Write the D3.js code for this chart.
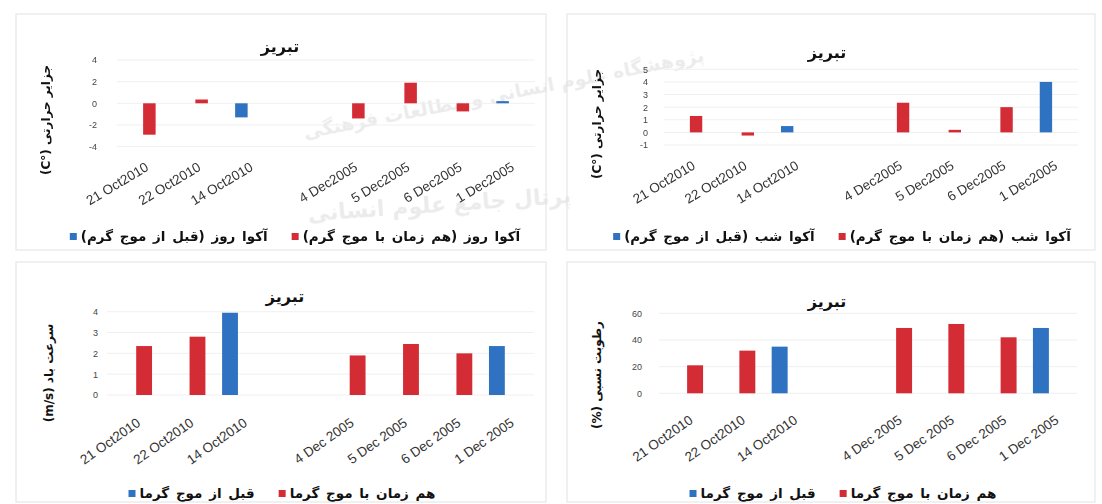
<!DOCTYPE html>
<html>
<head>
<meta charset="utf-8">
<script src="https://cdn.jsdelivr.net/npm/d3@7"></script>
<style>
body{margin:0;background:#fff}
svg{display:block}
.fa{font-family:"DejaVu Sans",sans-serif;direction:rtl;unicode-bidi:embed;font-weight:bold}
.tick text{font-family:"Liberation Sans",Arial,sans-serif}
</style>
</head>
<body>
<svg id="chart" width="1102" height="504"></svg>
<script>
// categories (index 3 is the empty gap between the two events)
let catsTop=['21 Oct2010','22 Oct2010','14 Oct2010','','4 Dec2005','5 Dec2005','6 Dec2005','1 Dec2005'];
let catsBottom=['21 Oct2010','22 Oct2010','14 Oct2010','','4 Dec 2005','5 Dec 2005','6 Dec 2005','1 Dec 2005'];

// heat island, day (top left)
let dayDuring=[-2.9,0.35,null,null,-1.4,1.9,-0.75,null];
let dayBefore=[null,null,-1.3,null,null,null,null,0.2];
// heat island, night (top right)
let nightDuring=[1.3,-0.25,null,null,2.35,0.2,2.0,null];
let nightBefore=[null,null,0.5,null,null,null,null,4.0];
// wind speed m/s (bottom left)
let windDuring=[2.35,2.8,null,null,1.9,2.45,2.0,null];
let windBefore=[null,null,3.95,null,null,null,null,2.35];
// relative humidity % (bottom right)
let humDuring=[21,32,null,null,49,52,42,null];
let humBefore=[null,null,35,null,null,null,null,49];

let ticksDay=[-4,-2,0,2,4];
let ticksNight=[-1,0,1,2,3,4,5];
let ticksWind=[0,1,2,3,4];
let ticksHum=[0,20,40,60];

let title='تبریز';
let legendDay=['آکوا روز (قبل از موج گرم)','آکوا روز (هم زمان با موج گرم)'];
let legendNight=['آکوا شب (قبل از موج گرم)','آکوا شب (هم زمان با موج گرم)'];
let legendWave=['قبل از موج گرما','هم زمان با موج گرما'];

let color={before:'#2f72c2',during:'#d32c35'};
let svg=d3.select('#chart');

// watermark of the source site, faint gray
let wm=svg.append('g').attr('fill','#9a9a9a').attr('opacity',0.2).attr('class','fa');
wm.append('text').attr('transform','translate(505,100) rotate(-11)').attr('text-anchor','middle')
  .attr('font-size',19).text('پژوهشگاه علوم انسانی و مطالعات فرهنگی');
wm.append('text').attr('transform','translate(440,212) rotate(-4)').attr('text-anchor','middle')
  .attr('font-size',22).text('پرتال جامع علوم انسانی');

let panels=[
  {box:[16,14,530,236],cats:catsTop,before:dayBefore,during:dayDuring,ticks:ticksDay,
   yDomain:[-4,4],yRange:[146.6,60],xRange:[117,535],pi:0,po:1.09,tickX:97,
   titleXY:[280,52],yTitle:'جزایر حرارتی (°C)',yTitleXY:[46,120],lx:4,ly:19,rot:-31,
   legend:legendDay,legendCx:295,legendY:237},
  {box:[567,14,528,236],cats:catsTop,before:nightBefore,during:nightDuring,ticks:ticksNight,
   yDomain:[-1,5],yRange:[145,69.3],xRange:[664,1078],pi:0,po:1.09,tickX:648,
   titleXY:[827,58],yTitle:'جزایر حرارتی (°C)',yTitleXY:[597,124],lx:4,ly:19,rot:-31,
   legend:legendNight,legendCx:842,legendY:237},
  {box:[16,262,530,240],cats:catsBottom,before:windBefore,during:windDuring,ticks:ticksWind,
   yDomain:[0,4],yRange:[395,311.7],xRange:[107,534],pi:0.24,po:0.4,tickX:98,
   titleXY:[285,302],yTitle:'سرعت باد (m/s)',yTitleXY:[49,373],lx:5,ly:26,rot:-35,
   legend:legendWave,legendCx:282,legendY:494},
  {box:[567,262,528,240],cats:catsBottom,before:humBefore,during:humDuring,ticks:ticksHum,
   yDomain:[0,60],yRange:[393.3,313.3],xRange:[659,1077],pi:0.2,po:0.41,tickX:642,
   titleXY:[827,307],yTitle:'رطوبت نسبی (%)',yTitleXY:[597,375],lx:6,ly:25,rot:-35,
   legend:legendWave,legendCx:843,legendY:494}
];

let drawPanel=(p)=>{
  let g=svg.append('g');
  g.append('rect')
    .attr('x',p.box[0]).attr('y',p.box[1]).attr('width',p.box[2]).attr('height',p.box[3])
    .attr('fill','none').attr('stroke','#e2e2e2');

  let y=d3.scaleLinear().domain(p.yDomain).range(p.yRange);
  let x0=d3.scaleBand().domain(d3.range(p.cats.length)).range(p.xRange);
  let x1=d3.scaleBand().domain(['before','during']).range([0,x0.bandwidth()])
    .paddingInner(p.pi).paddingOuter(p.po);

  // gridlines
  g.selectAll('line.grid').data(p.ticks).enter().append('line')
    .attr('class','grid')
    .attr('x1',p.xRange[0]).attr('x2',p.xRange[1])
    .attr('y1',d=>y(d)).attr('y2',d=>y(d))
    .attr('stroke','#f0f0f0');

  // y axis labels
  let yAxis=d3.axisLeft(y).tickValues(p.ticks).tickSize(0).tickPadding(0)
    .tickFormat(d=>String(d));
  g.append('g').attr('transform','translate('+p.tickX+',0)').call(yAxis)
    .call(a=>a.select('.domain').remove())
    .selectAll('text').attr('font-size',9).attr('fill','#444');

  // bars
  let rows=[];
  p.cats.forEach((c,i)=>{
    if(p.before[i]!=null) rows.push({i:i,s:'before',v:p.before[i]});
    if(p.during[i]!=null) rows.push({i:i,s:'during',v:p.during[i]});
  });
  g.selectAll('rect.bar').data(rows).enter().append('rect')
    .attr('class','bar')
    .attr('x',d=>x0(d.i)+x1(d.s))
    .attr('width',x1.bandwidth())
    .attr('y',d=>y(Math.max(0,d.v)))
    .attr('height',d=>Math.abs(y(d.v)-y(0)))
    .attr('fill',d=>color[d.s]);

  // rotated category labels
  let xAxis=d3.axisBottom(x0).tickFormat(i=>p.cats[i]).tickSize(0);
  g.append('g').attr('transform','translate(0,'+p.yRange[0]+')').call(xAxis)
    .call(a=>a.select('.domain').remove())
    .selectAll('text')
    .attr('x',0).attr('y',0).attr('dy','0.35em')
    .attr('text-anchor','end')
    .attr('font-size',13.5).attr('fill','#333')
    .attr('transform','translate('+p.lx+','+p.ly+') rotate('+p.rot+')');

  // title
  g.append('text').attr('class','fa')
    .attr('x',p.titleXY[0]).attr('y',p.titleXY[1])
    .attr('text-anchor','middle').attr('font-size',16).attr('fill','#111')
    .text(title);

  // y axis title
  g.append('text').attr('class','fa')
    .attr('transform','translate('+p.yTitleXY[0]+','+p.yTitleXY[1]+') rotate(-90)')
    .attr('text-anchor','middle').attr('dy','0.35em').attr('font-size',12).attr('fill','#111')
    .text(p.yTitle);

  // legend
  let lg=g.append('g');
  let xPos=0;
  [['before',p.legend[0]],['during',p.legend[1]]].forEach((it,k)=>{
    lg.append('rect').attr('x',xPos).attr('y',-4).attr('width',7).attr('height',7)
      .attr('fill',color[it[0]]);
    xPos+=11;
    let t=lg.append('text').attr('class','fa').attr('y',4)
      .attr('text-anchor','middle').attr('font-size',13.5).attr('word-spacing',2).attr('fill','#111')
      .text(it[1]);
    let w=t.node().getComputedTextLength();
    t.attr('x',xPos+w/2);
    xPos+=w+(k==0?24:0);
  });
  lg.attr('transform','translate('+(p.legendCx-xPos/2)+','+p.legendY+')');
};

panels.forEach(drawPanel);
</script>
</body>
</html>
